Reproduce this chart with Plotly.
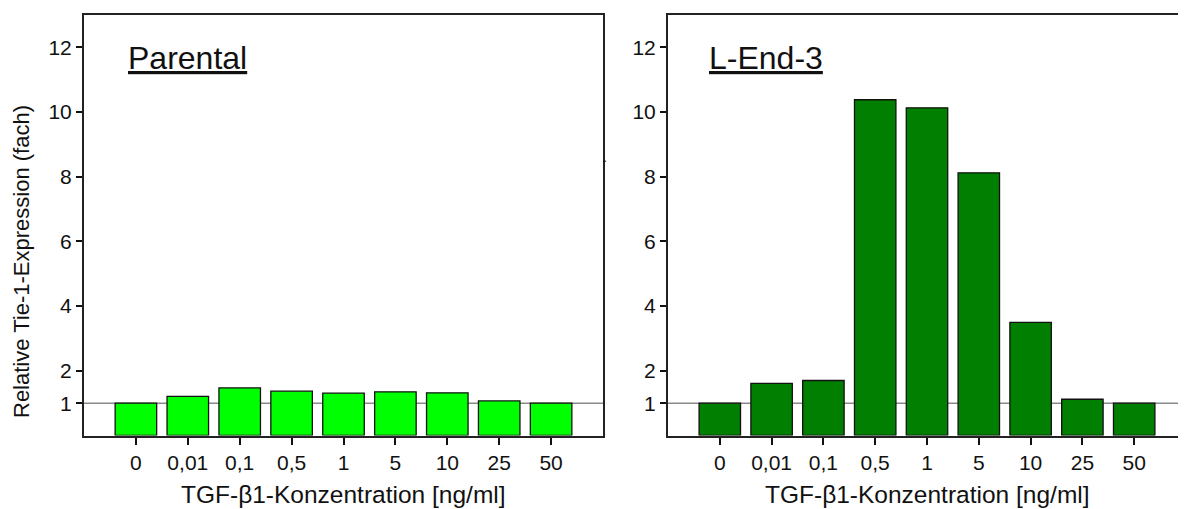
import plotly.graph_objects as go

# categories (TGF-beta1 concentration, ng/ml)
konz = ["0", "0,01", "0,1", "0,5", "1", "5", "10", "25", "50"]

# relative Tie-1 expression (fold)
parental = [1.0, 1.21, 1.47, 1.37, 1.31, 1.35, 1.32, 1.07, 1.0]
l_end_3 = [1.0, 1.61, 1.70, 10.38, 10.13, 8.12, 3.50, 1.12, 1.0]

y_ticks = [1, 2, 4, 6, 8, 10, 12]

# the page body adds an 8px margin, so the figure is 8px smaller than the window
W, H = 1178, 501
OFF = 8
font = "Liberation Sans, Arial, sans-serif"


def px(x):
    return (x - OFF) / W


def py(y):
    return 1 - (y - OFF) / H


fig = go.Figure()
fig.add_trace(go.Bar(x=list(range(len(konz))), y=parental, width=0.8,
                     marker=dict(color="#00FF00", line=dict(color="#111", width=1.3)),
                     xaxis="x", yaxis="y", showlegend=False))
fig.add_trace(go.Bar(x=list(range(len(konz))), y=l_end_3, width=0.8,
                     marker=dict(color="#007F00", line=dict(color="#111", width=1.3)),
                     xaxis="x2", yaxis="y2", showlegend=False))

ydom = [py(435.5), py(15)]
xdom1 = [px(84), px(603)]
xdom2 = [px(668), 1.0]

xcommon = dict(range=[-1, 9], tickmode="array", tickvals=list(range(len(konz))),
               ticktext=konz, ticks="outside", ticklen=7, tickwidth=1.5,
               tickcolor="#111", showline=True, linecolor="#222", linewidth=2,
               showgrid=False, zeroline=False, mirror=True,
               tickfont=dict(size=21, color="#111", family=font))
ycommon = dict(range=[0, 13], tickmode="array", tickvals=y_ticks,
               ticks="outside", ticklen=6, tickwidth=1.5, tickcolor="#111",
               showline=True, linecolor="#222", linewidth=2, showgrid=False,
               zeroline=False, tickfont=dict(size=21, color="#111", family=font))

fig.update_layout(
    width=W, height=H,
    margin=dict(l=0, r=0, t=0, b=0),
    paper_bgcolor="white", plot_bgcolor="white",
    bargap=0.2,
    xaxis=dict(domain=xdom1, anchor="y", **xcommon),
    yaxis=dict(domain=ydom, anchor="x", mirror=True, **ycommon),
    xaxis2=dict(domain=xdom2, anchor="y2", **xcommon),
    yaxis2=dict(domain=ydom, anchor="x2", mirror=False, **ycommon),
    # small inner tick marks along the top edges
    xaxis3=dict(overlaying="x", side="top", anchor="y", range=[-1, 9],
                tickmode="array", tickvals=list(range(len(konz))),
                ticks="inside", ticklen=3, tickwidth=2, tickcolor="#111",
                showticklabels=False, showline=False, showgrid=False, zeroline=False),
    xaxis4=dict(overlaying="x2", side="top", anchor="y2", range=[-1, 9],
                tickmode="array", tickvals=list(range(len(konz))),
                ticks="inside", ticklen=3, tickwidth=2, tickcolor="#111",
                showticklabels=False, showline=False, showgrid=False, zeroline=False),
)

# reference line at 1
for xr, yr in (("x domain", "y"), ("x2 domain", "y2")):
    fig.add_shape(type="line", xref=xr, yref=yr, x0=0, x1=1, y0=1, y1=1,
                  line=dict(color="#8a8a8a", width=1.5), layer="below")

# stray tick on the right edge of the left panel
fig.add_shape(type="line", xref="x domain", yref="y", x0=1, x1=1.006, y0=8.48, y1=8.48,
              line=dict(color="#111", width=1))

fig.add_annotation(text="<u>Parental</u>", xref="paper", yref="paper",
                   x=px(126), y=py(58), xanchor="left", yanchor="middle",
                   showarrow=False, font=dict(size=32, color="#111", family=font))
fig.add_annotation(text="<u>L-End-3</u>", xref="paper", yref="paper",
                   x=px(707), y=py(58), xanchor="left", yanchor="middle",
                   showarrow=False, font=dict(size=32, color="#111", family=font))

for cx in ((84 + 603) / 2, (668 + 1186) / 2):
    fig.add_annotation(text="TGF-β1-Konzentration [ng/ml]", xref="paper", yref="paper",
                       x=px(cx), y=py(494), xanchor="center", yanchor="middle",
                       showarrow=False, font=dict(size=24.5, color="#111", family=font))

fig.add_annotation(text="Relative Tie-1-Expression (fach)", xref="paper", yref="paper",
                   x=px(22), y=py(262), xanchor="center", yanchor="middle",
                   textangle=-90, showarrow=False,
                   font=dict(size=22, color="#111", family=font))

fig.write_html("out.html")
